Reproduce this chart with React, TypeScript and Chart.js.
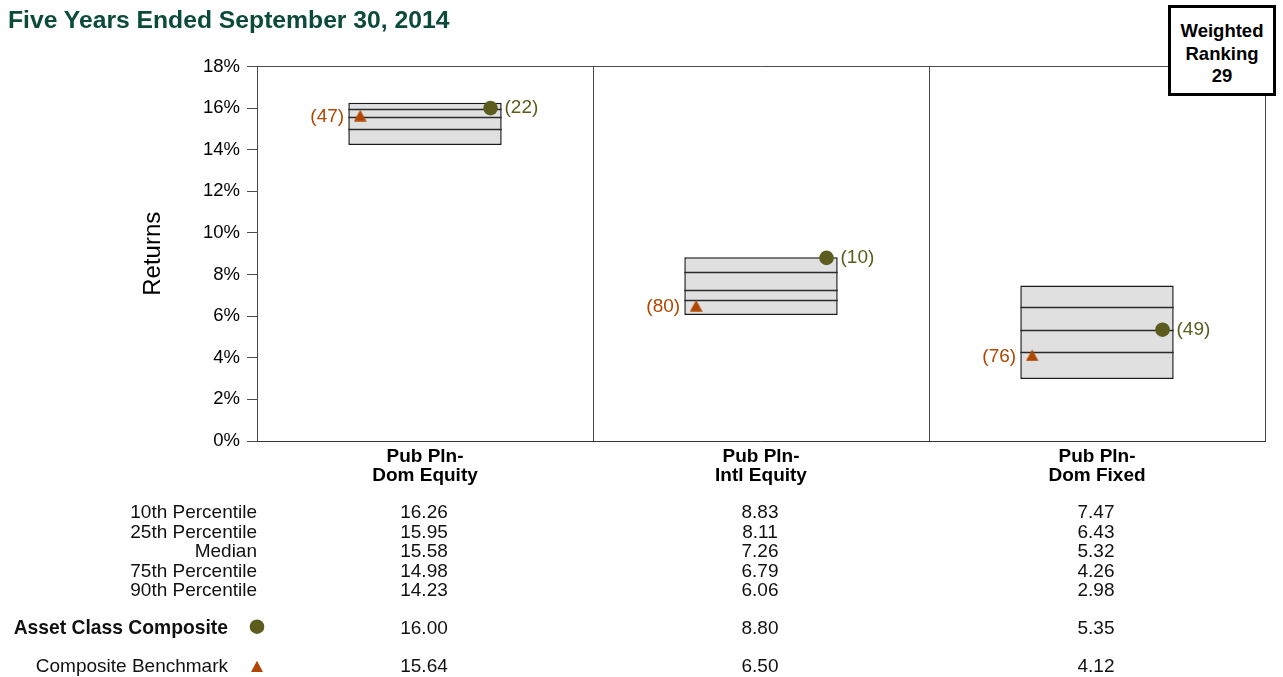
import React, { useEffect, useRef } from 'react';
import { Chart, registerables } from 'chart.js';

Chart.register(...registerables);

// ---------- data ----------
const categories: string[][] = [
  ['Pub Pln-', 'Dom Equity'],
  ['Pub Pln-', 'Intl Equity'],
  ['Pub Pln-', 'Dom Fixed'],
];
const pct10 = [16.26, 8.83, 7.47];
const pct25 = [15.95, 8.11, 6.43];
const median = [15.58, 7.26, 5.32];
const pct75 = [14.98, 6.79, 4.26];
const pct90 = [14.23, 6.06, 2.98];
const composite = [16.0, 8.8, 5.35];
const compositeRank = [22, 10, 49];
const benchmark = [15.64, 6.5, 4.12];
const benchmarkRank = [47, 80, 76];
const yMin = 0;
const yMax = 18;
const yStep = 2;
const rowLabels = ['10th Percentile', '25th Percentile', 'Median', '75th Percentile', '90th Percentile'];
const compositeLabel = 'Asset Class Composite';
const benchmarkLabel = 'Composite Benchmark';
const weightedRanking = 29;
const titleText = 'Five Years Ended September 30, 2014';
const supTitleText = 'Total Asset Class Performance';

// ---------- styles ----------
const FONT = "'Liberation Sans', Arial, Helvetica, sans-serif";
const OLIVE = '#5c5c1f';
const ORANGE = '#b04600';
const AXIS = '#4a4a4a';
const CIRCLE_SHIFT = 0.195;
const TRIANGLE_SHIFT = -0.193;

function makeTriangle(): HTMLCanvasElement {
  const c = document.createElement('canvas');
  c.width = 13;
  c.height = 12;
  const g = c.getContext('2d')!;
  g.fillStyle = ORANGE;
  g.beginPath();
  g.moveTo(6.5, 0.3);
  g.lineTo(12.8, 11.7);
  g.lineTo(0.2, 11.7);
  g.closePath();
  g.fill();
  return c;
}

const boxLinesPlugin = {
  id: 'boxLines',
  afterDatasetDraw(chart: any, args: any) {
    if (args.meta.type !== 'bar') return;
    const ctx = chart.ctx;
    const y = chart.scales.y;
    ctx.save();
    ctx.strokeStyle = '#2a2a2a';
    ctx.lineWidth = 1.5;
    args.meta.data.forEach((bar: any, i: number) => {
      const { x, width } = bar.getProps(['x', 'width'], true);
      [pct25[i], median[i], pct75[i]].forEach((v) => {
        const py = Math.round(y.getPixelForValue(v)) + 0.5;
        ctx.beginPath();
        ctx.moveTo(x - width / 2, py);
        ctx.lineTo(x + width / 2, py);
        ctx.stroke();
      });
    });
    ctx.restore();
  },
};

const rankLabelPlugin = {
  id: 'rankLabels',
  afterDatasetsDraw(chart: any) {
    const ctx = chart.ctx;
    ctx.save();
    ctx.font = `19px ${FONT}`;
    ctx.textBaseline = 'middle';
    chart.data.datasets.forEach((ds: any, di: number) => {
      if (!ds.ranks) return;
      const meta = chart.getDatasetMeta(di);
      meta.data.forEach((pt: any, i: number) => {
        const { x, y } = pt.getProps(['x', 'y'], true);
        ctx.fillStyle = ds.labelColor;
        const txt = `(${ds.ranks[i]})`;
        if (ds.labelSide === 'right') {
          ctx.textAlign = 'left';
          ctx.fillText(txt, x + 14, y);
        } else {
          ctx.textAlign = 'right';
          ctx.fillText(txt, x - 16, y + 1);
        }
      });
    });
    ctx.restore();
  },
};

const tablePlugin = {
  id: 'valueTable',
  afterDraw(chart: any) {
    const ctx = chart.ctx;
    const xs = chart.scales.x;
    const area = chart.chartArea;
    const left = area.left;
    const base = area.bottom;
    const rows = [pct10, pct25, median, pct75, pct90];
    ctx.save();
    ctx.fillStyle = '#111';
    ctx.textBaseline = 'alphabetic';
    ctx.font = `19px ${FONT}`;
    rows.forEach((vals, r) => {
      const by = base + 77 + r * 19.5;
      ctx.textAlign = 'right';
      ctx.fillText(rowLabels[r], left, by);
      ctx.textAlign = 'center';
      vals.forEach((v, i) => ctx.fillText(v.toFixed(2), xs.getPixelForValue(i) - 1, by));
    });
    // composite row
    const cy = base + 192.5;
    ctx.font = `bold 19.3px ${FONT}`;
    ctx.textAlign = 'right';
    ctx.fillText(compositeLabel, left - 29, cy);
    ctx.font = `19px ${FONT}`;
    ctx.textAlign = 'center';
    composite.forEach((v, i) => ctx.fillText(v.toFixed(2), xs.getPixelForValue(i) - 1, cy));
    ctx.fillStyle = OLIVE;
    ctx.beginPath();
    ctx.arc(left, cy - 6.8, 7.3, 0, Math.PI * 2);
    ctx.fill();
    // benchmark row
    const byy = base + 231;
    ctx.fillStyle = '#111';
    ctx.textAlign = 'right';
    ctx.fillText(benchmarkLabel, left - 29, byy);
    ctx.textAlign = 'center';
    benchmark.forEach((v, i) => ctx.fillText(v.toFixed(2), xs.getPixelForValue(i) - 1, byy));
    ctx.fillStyle = ORANGE;
    ctx.beginPath();
    ctx.moveTo(left, byy - 11.3);
    ctx.lineTo(left + 6, byy);
    ctx.lineTo(left - 6, byy);
    ctx.closePath();
    ctx.fill();
    ctx.restore();
  },
};

export default function App() {
  const ref = useRef<HTMLCanvasElement | null>(null);

  useEffect(() => {
    if (!ref.current) return;
    const tri = makeTriangle();
    const chart = new Chart(ref.current, {
      type: 'bar',
      data: {
        labels: categories as any,
        datasets: [
          {
            type: 'scatter',
            label: 'Asset Class Composite',
            xAxisID: 'x2',
            yAxisID: 'y',
            data: composite.map((v, i) => ({ x: i + CIRCLE_SHIFT, y: v })),
            pointStyle: 'circle',
            pointRadius: 7.3,
            pointHoverRadius: 7.3,
            pointBackgroundColor: OLIVE,
            pointBorderWidth: 0,
            order: 1,
            ranks: compositeRank,
            labelSide: 'right',
            labelColor: OLIVE,
          } as any,
          {
            type: 'scatter',
            label: 'Composite Benchmark',
            xAxisID: 'x2',
            yAxisID: 'y',
            data: benchmark.map((v, i) => ({ x: i + TRIANGLE_SHIFT, y: v })),
            pointStyle: tri,
            pointRadius: 7,
            pointHoverRadius: 7,
            pointBackgroundColor: ORANGE,
            pointBorderWidth: 0,
            order: 1,
            ranks: benchmarkRank,
            labelSide: 'left',
            labelColor: ORANGE,
          } as any,
          {
            type: 'bar',
            label: 'Range',
            xAxisID: 'x',
            yAxisID: 'y',
            data: pct90.map((v, i) => [v, pct10[i]]) as any,
            backgroundColor: '#e0e0e0',
            borderColor: '#1a1a1a',
            borderWidth: 1.5,
            borderSkipped: false,
            grouped: false,
            barPercentage: 0.4565,
            categoryPercentage: 1,
            order: 2,
          } as any,
        ],
      },
      options: {
        responsive: false,
        animation: false,
        layout: { padding: { top: 66.5, right: 18, bottom: 187, left: 0 } },
        plugins: {
          legend: { display: false },
          tooltip: { enabled: false },
        },
        events: [],
        scales: {
          x: {
            type: 'category',
            offset: true,
            grid: { offset: true, color: AXIS, lineWidth: 1, drawTicks: false },
            border: { display: true, color: '#333', width: 1 },
            ticks: {
              color: '#000',
              padding: 6,
              maxRotation: 0,
              autoSkip: false,
              font: { family: FONT, size: 19, weight: 'bold', lineHeight: 1 },
            },
            afterFit: (s: any) => {
              s.height = 49;
            },
          },
          x2: {
            type: 'linear',
            display: false,
            min: -0.5,
            max: 2.5,
            offset: false,
          },
          y: {
            type: 'linear',
            min: yMin,
            max: yMax,
            ticks: {
              stepSize: yStep,
              color: '#000',
              padding: 7,
              font: { family: FONT, size: 18.5 },
              callback: (v: any) => `${v}%`,
            },
            grid: {
              color: (c: any) => (c.tick && c.tick.value === yMax ? AXIS : 'rgba(0,0,0,0)'),
              tickColor: AXIS,
              tickLength: 10,
              lineWidth: 1,
            },
            border: { display: true, color: AXIS, width: 1 },
            title: {
              display: true,
              text: 'Returns',
              color: '#000',
              font: { family: FONT, size: 24 },
              padding: { top: 139, bottom: 0 },
            },
            afterFit: (s: any) => {
              s.width = 257;
            },
          },
        },
      } as any,
      plugins: [boxLinesPlugin, rankLabelPlugin, tablePlugin],
    });
    return () => chart.destroy();
  }, []);

  return (
    <div style={{ position: 'absolute', left: 0, top: 0, width: 1283, height: 677, background: '#fff', overflow: 'hidden' }}>
      <canvas ref={ref} width={1283} height={677} style={{ position: 'absolute', left: 0, top: 0 }} />
      <div
        style={{
          position: 'absolute', left: 8, top: -20.3, height: 30, overflow: 'hidden', whiteSpace: 'nowrap',
          fontFamily: FONT, fontWeight: 'bold', fontSize: 24.7, lineHeight: '24px', color: '#0c4b3c',
        }}
      >
        {supTitleText}
      </div>
      <div
        style={{
          position: 'absolute', left: 8, top: 7.75, whiteSpace: 'nowrap',
          fontFamily: FONT, fontWeight: 'bold', fontSize: 24.7, lineHeight: '24px', color: '#0c4b3c',
        }}
      >
        {titleText}
      </div>
      <div
        style={{
          position: 'absolute', left: 1168, top: 5, width: 108, height: 91, boxSizing: 'border-box',
          border: '3px solid #000', background: '#fff', textAlign: 'center', paddingTop: 11.9,
          fontFamily: FONT, fontWeight: 'bold', fontSize: 18.5, lineHeight: '22.7px', color: '#000',
        }}
      >
        <div>Weighted</div>
        <div>Ranking</div>
        <div>{weightedRanking}</div>
      </div>
    </div>
  );
}
